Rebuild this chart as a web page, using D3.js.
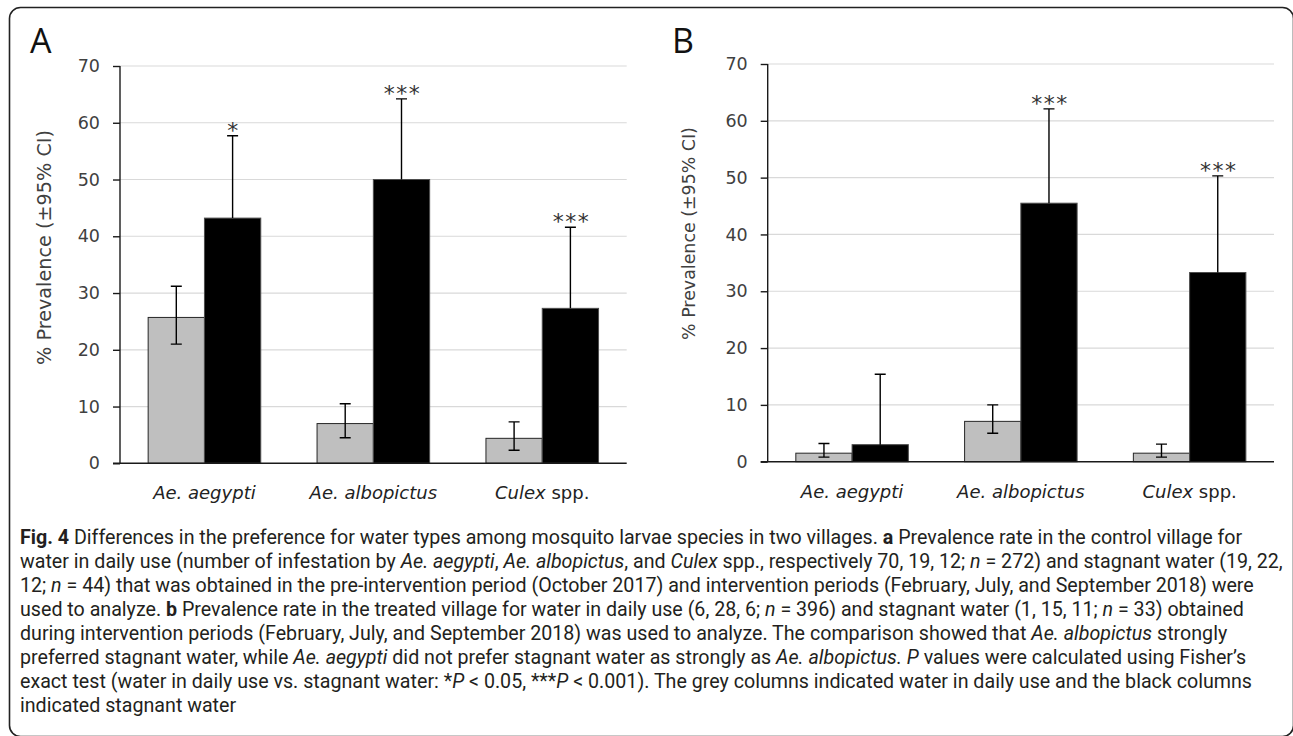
<!DOCTYPE html>
<html><head><meta charset="utf-8">
<script src="https://cdn.jsdelivr.net/npm/d3@7/dist/d3.min.js"></script>
<style>
html,body{margin:0;padding:0;background:#fff;}
svg{display:block;}
</style></head>
<body>
<svg id="chart" width="1293" height="736"></svg>
<script>
// ---------- data ----------
const categories = ["Ae. aegypti", "Ae. albopictus", "Culex spp."];
const categoryItalic = ["Ae. aegypti", "Ae. albopictus", "Culex"];
const categoryPlain = ["", "", " spp."];
const seriesNames = ["water in daily use", "stagnant water"];
const yTicks = [0, 10, 20, 30, 40, 50, 60, 70];

// Panel A: control village
const dailyA = [25.7, 7.0, 4.4];
const dailyALow = [21.0, 4.5, 2.3];
const dailyAHigh = [31.2, 10.5, 7.3];
const stagnantA = [43.2, 50.0, 27.3];
const stagnantAHigh = [57.7, 64.2, 41.6];
const signifA = ["*", "***", "***"];

// Panel B: treated village
const dailyB = [1.5, 7.1, 1.5];
const dailyBLow = [0.8, 5.0, 0.8];
const dailyBHigh = [3.2, 10.0, 3.1];
const stagnantB = [3.0, 45.5, 33.3];
const stagnantBHigh = [15.4, 62.1, 50.3];
const signifB = ["", "***", "***"];

const yTitle = "% Prevalence (\u00B195% CI)";

const captionLines = [
  [["Fig. 4", "b"], [" Differences in the preference for water types among mosquito larvae species in two villages. ", ""], ["a", "b"], [" Prevalence rate in the control village for", ""]],
  [["water in daily use (number of infestation by ", ""], ["Ae. aegypti", "i"], [", ", ""], ["Ae. albopictus", "i"], [", and ", ""], ["Culex", "i"], [" spp., respectively 70, 19, 12; ", ""], ["n", "i"], [" = 272) and stagnant water (19, 22,", ""]],
  [["12; ", ""], ["n", "i"], [" = 44) that was obtained in the pre-intervention period (October 2017) and intervention periods (February, July, and September 2018) were", ""]],
  [["used to analyze. ", ""], ["b", "b"], [" Prevalence rate in the treated village for water in daily use (6, 28, 6; ", ""], ["n", "i"], [" = 396) and stagnant water (1, 15, 11; ", ""], ["n", "i"], [" = 33) obtained", ""]],
  [["during intervention periods (February, July, and September 2018) was used to analyze. The comparison showed that ", ""], ["Ae. albopictus", "i"], [" strongly", ""]],
  [["preferred stagnant water, while ", ""], ["Ae. aegypti", "i"], [" did not prefer stagnant water as strongly as ", ""], ["Ae. albopictus.", "i"], [" ", ""], ["P", "i"], [" values were calculated using Fisher\u2019s", ""]],
  [["exact test (water in daily use vs. stagnant water: *", ""], ["P", "i"], [" < 0.05, ***", ""], ["P", "i"], [" < 0.001). The grey columns indicated water in daily use and the black columns", ""]],
  [["indicated stagnant water", ""]]
];

// ---------- drawing ----------
const svg = d3.select("#chart");
const chartFont = "'DejaVu Sans', sans-serif";

// outer rounded frame
svg.append("rect")
  .attr("x", 9.5).attr("y", 7.5)
  .attr("width", 1284).attr("height", 729)
  .attr("rx", 11).attr("ry", 11)
  .attr("fill", "none").attr("stroke", "#222").attr("stroke-width", 1.6);

const panels = [
  { letter: "A", letterX: 30, letterY: 53, left: 120, right: 626.7, bottom: 463.3, top: 66,
    daily: dailyA, dLow: dailyALow, dHigh: dailyAHigh, stag: stagnantA, sHigh: stagnantAHigh, sig: signifA,
    titleX: 44, titleY: 247.5, titleLen: 235, catY: 499 },
  { letter: "B", letterX: 672, letterY: 53, left: 767.7, right: 1274, bottom: 461.7, top: 64,
    daily: dailyB, dLow: dailyBLow, dHigh: dailyBHigh, stag: stagnantB, sHigh: stagnantBHigh, sig: signifB,
    titleX: 689, titleY: 233.5, titleLen: 213, catY: 498 }
];

panels.forEach(p => {
  const g = svg.append("g");
  const x = d3.scaleBand().domain(categories).range([p.left, p.right]).padding(0);
  const xs = d3.scaleBand().domain(seriesNames).range([0, x.bandwidth()]).paddingInner(0).paddingOuter(0.5);
  const y = d3.scaleLinear().domain([0, 70]).range([p.bottom, p.top]);

  // gridlines
  g.append("g").selectAll("line").data(yTicks.filter(t => t > 0)).join("line")
    .attr("x1", p.left).attr("x2", p.right)
    .attr("y1", d => y(d)).attr("y2", d => y(d))
    .attr("stroke", "#d9d9d9").attr("stroke-width", 1.2);

  // y axis
  const yAxis = d3.axisLeft(y).tickValues(yTicks).tickSize(7).tickPadding(13).tickFormat(d3.format("d"));
  const ya = g.append("g").attr("transform", `translate(${p.left},0)`).call(yAxis);
  ya.select(".domain").attr("stroke", "#1a1a1a").attr("stroke-width", 1.4).attr("d", `M0,${p.top}V${p.bottom}`);
  ya.selectAll(".tick line").attr("stroke", "#1a1a1a").attr("stroke-width", 1.4);
  ya.selectAll(".tick text").attr("font-family", chartFont).attr("font-size", 17.5).attr("fill", "#404040");

  // bars
  const rows = categories.map((c, i) => ({ c, i }));
  g.append("g").selectAll("rect").data(rows).join("rect")
    .attr("x", d => x(d.c) + xs(seriesNames[0]))
    .attr("width", xs.bandwidth())
    .attr("y", d => y(p.daily[d.i]))
    .attr("height", d => y(0) - y(p.daily[d.i]))
    .attr("fill", "#bfbfbf").attr("stroke", "#262626").attr("stroke-width", 1);
  g.append("g").selectAll("rect").data(rows).join("rect")
    .attr("x", d => x(d.c) + xs(seriesNames[1]))
    .attr("width", xs.bandwidth())
    .attr("y", d => y(p.stag[d.i]))
    .attr("height", d => y(0) - y(p.stag[d.i]))
    .attr("fill", "#000").attr("stroke", "#4d4d4d").attr("stroke-width", 1);

  // x axis line
  g.append("line").attr("x1", p.left - 7).attr("x2", p.right)
    .attr("y1", y(0)).attr("y2", y(0)).attr("stroke", "#1a1a1a").attr("stroke-width", 1.4);

  // error bars
  const cap = 5.5;
  const eb = g.append("g").attr("stroke", "#000").attr("stroke-width", 1.4).attr("fill", "none");
  rows.forEach(d => {
    const cx = x(d.c) + xs(seriesNames[0]) + xs.bandwidth() / 2;
    eb.append("path").attr("d",
      `M${cx},${y(p.dLow[d.i])}V${y(p.dHigh[d.i])}` +
      `M${cx - cap},${y(p.dHigh[d.i])}H${cx + cap}` +
      `M${cx - cap},${y(p.dLow[d.i])}H${cx + cap}`);
    const sx = x(d.c) + xs(seriesNames[1]) + xs.bandwidth() / 2;
    eb.append("path").attr("d",
      `M${sx},${y(p.stag[d.i])}V${y(p.sHigh[d.i])}` +
      `M${sx - cap},${y(p.sHigh[d.i])}H${sx + cap}`);
    // significance stars
    if (p.sig[d.i]) {
      g.append("text").attr("x", sx + 1).attr("y", y(p.sHigh[d.i]) + 2)
        .attr("text-anchor", "middle")
        .attr("font-family", chartFont).attr("font-size", 22)
        .attr("letter-spacing", 1.5)
        .attr("fill", "#333").text(p.sig[d.i]);
    }
  });

  // category labels
  rows.forEach(d => {
    const t = g.append("text").attr("x", x(d.c) + x.bandwidth() / 2).attr("y", p.catY)
      .attr("text-anchor", "middle").attr("font-family", chartFont).attr("font-size", 18).attr("fill", "#222");
    t.append("tspan").attr("font-style", "italic").text(categoryItalic[d.i]);
    if (categoryPlain[d.i]) t.append("tspan").text(categoryPlain[d.i]);
  });

  // y title
  const tt = g.append("text")
    .attr("transform", `translate(${p.titleX},${p.titleY}) rotate(-90)`)
    .attr("text-anchor", "middle").attr("dominant-baseline", "central")
    .attr("font-family", chartFont).attr("font-size", 17).attr("fill", "#404040")
    .text(yTitle);
  const len = tt.node().getComputedTextLength();
  tt.attr("font-size", 17 * p.titleLen / len);

  // panel letter
  g.append("text").attr("x", p.letterX).attr("y", p.letterY)
    .attr("font-family", "'Open Sans', sans-serif").attr("font-weight", 400)
    .attr("font-size", 34).attr("fill", "#111").text(p.letter);
});

// caption
const capFont = "Roboto, sans-serif";
const capG = svg.append("g");
const capX = 20, capY0 = 544, capDy = 24;
const capTexts = captionLines.map((segs, li) => {
  const t = capG.append("text").attr("x", capX).attr("y", capY0 + li * capDy)
    .attr("font-family", capFont).attr("font-size", 17).attr("fill", "#231f20");
  segs.forEach(([s, st]) => {
    const ts = t.append("tspan").text(s);
    if (st === "b") ts.attr("font-weight", 700);
    if (st === "i") ts.attr("font-style", "italic");
  });
  return t;
});
const l1 = capTexts[0].node().getComputedTextLength();
const capSize = 17 * (1243 - capX) / l1;
capTexts.forEach(t => t.attr("font-size", capSize));
</script>
</body></html>
